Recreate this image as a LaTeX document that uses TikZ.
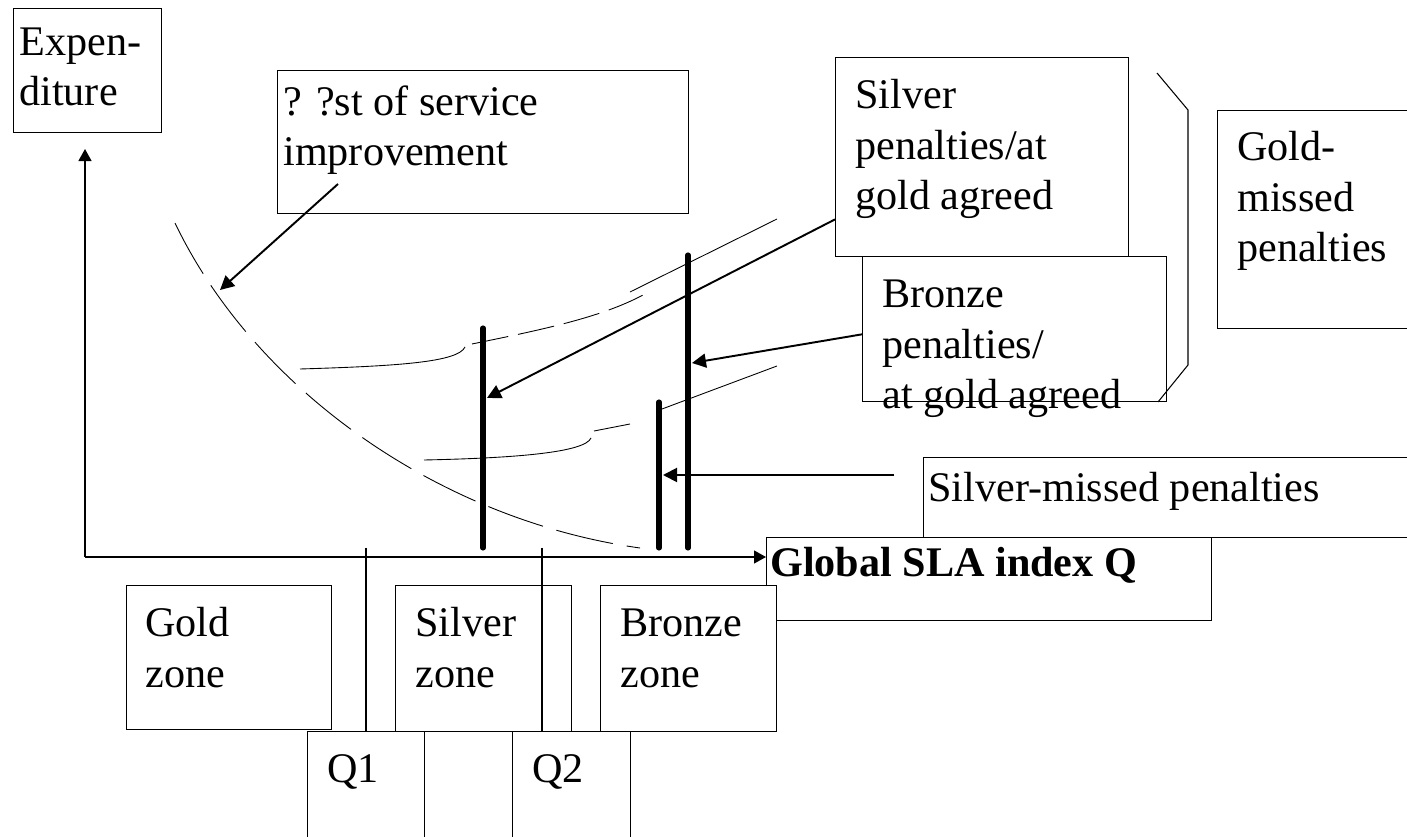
\documentclass[tikz,border=0pt]{standalone}
\usepackage{fontspec}
\setmainfont{Liberation Serif}
\usetikzlibrary{arrows.meta,calc}

\begin{document}
\begin{tikzpicture}
    [x=0.02cm,y=-0.02cm,>={Triangle[length=0.28cm,width=0.28cm]},
        box/.style={draw,fill=white,line width=0.6pt,inner sep=0pt,anchor=north west},
        txt/.style={anchor=base west,align=left,inner sep=0pt,font=\fontsize{24}{29}\selectfont},
        bar/.style={line width=2.9pt,line cap=round},
        curve/.style={line width=0.5pt},
        axis/.style={->,line width=0.7pt,>={Triangle[length=0.24cm,width=0.26cm]}},
        pointer/.style={->,line width=1.1pt}]

    \useasboundingbox (0,0) rectangle (1407,837);
    \clip (0,0) rectangle (1407,837);

    % boxes
    \node[box,minimum width=2.96cm,minimum height=2.48cm] (expenbox) at (13,8) {};
    \node[box,minimum width=8.22cm,minimum height=2.86cm] (costbox) at (277,70) {};
    \node[box,minimum width=5.86cm,minimum height=3.98cm] (silverpen) at (835,57) {};
    \node[box,minimum width=6.08cm,minimum height=2.90cm] (bronzepen) at (862,256) {};
    \node[box,minimum width=4.60cm,minimum height=4.36cm] (goldmiss) at (1217,110) {};
    \node[box,minimum width=10.4cm,minimum height=1.60cm] (silvermiss) at (923,457) {};
    \node[box,minimum width=8.90cm,minimum height=1.66cm] (globbox) at (766,537) {};
    \node[box,minimum width=4.10cm,minimum height=2.88cm] (goldzone) at (126,585) {};
    \node[box,minimum width=3.52cm,minimum height=2.92cm] (silverzone) at (395,585) {};
    \node[box,minimum width=3.52cm,minimum height=2.92cm] (bronzezone) at (600,585) {};
    \node[box,minimum width=2.34cm,minimum height=2.60cm] (qone) at (307,731) {};
    \node[box,minimum width=2.36cm,minimum height=2.60cm] (qtwo) at (512,731) {};

    % texts (placed by the baseline of their last line)
    \node[txt] (expen) at (19,106) {Expen-\\diture};
    \node[txt] (cost) at (283,166) {? ?st of service\\improvement};
    \node[txt] (silverpentxt) at (855,210) {Silver\\penalties/at\\gold agreed};
    \node[txt] (bronzepentxt) at (882,409) {Bronze\\penalties/\\at gold agreed};
    \node[txt] (goldmisstxt) at (1237,262) {Gold-\\missed\\penalties};
    \node[txt] (silvermisstxt) at (928,502) {Silver-missed penalties};
    \node[txt,font=\fontsize{24}{29}\selectfont\bfseries] (glob) at (770,577) {Global SLA index Q};
    \node[txt] (goldzonetxt) at (145,687) {Gold\\zone};
    \node[txt] (silverzonetxt) at (415,687) {Silver\\zone};
    \node[txt] (bronzezonetxt) at (620,687) {Bronze\\zone};
    \node[txt] (qonetxt) at (327,782) {Q1};
    \node[txt] (qtwotxt) at (532,782) {Q2};

    % axes
    \coordinate (o) at (85,557);
    \draw[axis] (o) -- ($(expenbox.south -| o)+(0,16)$);
    \draw[axis] (o) -- (globbox.west |- o);

    % Q borders
    \coordinate (qonetop) at (366,548);
    \coordinate (qtwotop) at (542,548);
    \draw[line width=0.6pt] (qonetop) -- (qonetop |- qone.north);
    \draw[line width=0.6pt] (qtwotop) -- (qtwotop |- qtwo.north);

    % cost curve and the two sums
    \draw[curve,dash pattern=on 1.16cm off 0.28cm] (175,223) .. controls (255,390) and (440,520) .. (640,548);
    \draw[curve] (300,369) .. controls (400,366) and (458,362) .. (465,347);
    \draw[curve,dash pattern=on 0.74cm off 0.2cm] (472,344) .. controls (540,330) and (600,318) .. (643,295);
    \draw[curve] (630,292) -- (777,219);
    \draw[curve] (424,460) .. controls (520,458) and (585,452) .. (591,438);
    \draw[curve] (594,431) -- (630,424);
    \draw[curve] (662,409) -- (777,366);

    % penalty bars
    \draw[bar] (483,328) -- (483,548);
    \draw[bar] (659,402) -- (659,548);
    \draw[bar] (688,255) -- (688,548);

    % brace
    \draw[line width=0.6pt] (1157,73) -- (1188,110) -- (1188,365) -- (1158,402);

    % pointers
    \coordinate (coststart) at (338,184);
    \coordinate (costhit) at (220,290);
    \coordinate (silverhit) at (487,398);
    \coordinate (bronzehit) at (692,363);
    \coordinate (smstart) at (894,475);
    \coordinate (smhit) at (663,475);
    \draw[pointer] (coststart) -- (costhit);
    \draw[pointer] (silverpen.203) -- (silverhit);
    \draw[pointer] (bronzepen.182) -- (bronzehit);
    \draw[pointer] (smstart) -- (smhit);
\end{tikzpicture}
\end{document}
